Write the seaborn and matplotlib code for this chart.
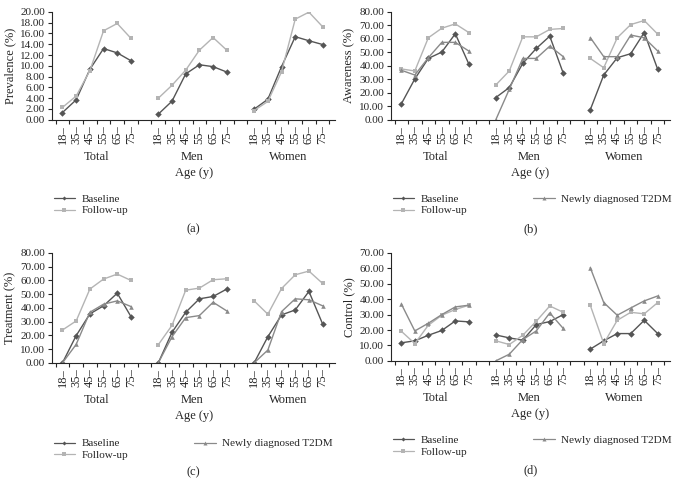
import seaborn as sns
import matplotlib.pyplot as plt
import matplotlib.ticker as mticker
import pandas as pd
import numpy as np

# age bands and groups
ages = ['18–', '35–', '45–', '55–', '65–', '75–']
groups = ['Total', 'Men', 'Women']

# (a) prevalence
prev_base = [1.35, 3.7, 9.35, 13.2, 12.4, 10.95,
             1.05, 3.45, 8.5, 10.2, 9.85, 8.85,
             1.97, 3.8, 9.85, 15.4, 14.65, 13.95]
prev_follow = [2.3, 4.4, 9.1, 16.5, 17.85, 15.1,
               4.0, 6.4, 9.2, 12.9, 15.25, 12.9,
               1.72, 3.4, 8.9, 18.65, 19.95, 17.25]

# (b) awareness
aware_base = [11.8, 30.3, 45.5, 50.2, 63.8, 41.4,
              16.5, 23.9, 41.8, 52.9, 62.0, 34.5,
              7.4, 33.2, 46.0, 49.0, 64.7, 37.4]
aware_follow = [37.7, 36.2, 60.8, 67.9, 71.1, 64.7,
                25.8, 36.2, 61.5, 61.5, 67.0, 67.7,
                45.5, 38.6, 60.8, 70.6, 73.6, 63.5]
aware_new = [36.7, 33.2, 46.0, 57.4, 57.4, 51.0,
             0.0, 22.6, 45.5, 45.5, 54.6, 46.8,
             61.0, 46.8, 46.8, 62.8, 60.8, 51.0]

# (c) treatment
treat_base = [0.0, 19.8, 35.6, 41.5, 50.7, 33.7,
              0.0, 22.2, 36.8, 46.6, 48.3, 53.7,
              0.0, 19.0, 34.9, 38.5, 52.0, 28.3]
treat_follow = [23.9, 30.5, 53.7, 61.0, 64.6, 60.0,
                13.2, 27.3, 52.9, 54.4, 60.5, 61.2,
                45.1, 35.4, 54.1, 64.1, 66.8, 57.8]
treat_new = [0.0, 13.4, 36.8, 42.7, 45.1, 41.0,
             0.0, 19.0, 32.9, 34.4, 44.1, 37.8,
             0.0, 9.3, 37.3, 46.6, 45.9, 41.5]

# (d) control
ctrl_base = [11.7, 13.0, 16.6, 19.7, 25.9, 25.3,
             16.8, 14.9, 13.4, 23.5, 25.5, 30.0,
             7.6, 13.0, 17.7, 17.7, 26.3, 17.7]
ctrl_follow = [19.2, 11.2, 23.1, 29.6, 33.3, 36.1,
               13.0, 10.6, 16.6, 25.7, 35.6, 31.5,
               36.1, 11.2, 26.3, 31.5, 30.5, 37.8]
ctrl_new = [36.9, 19.4, 24.4, 30.0, 35.0, 36.1,
            0.0, 4.3, 13.8, 19.4, 31.1, 21.0,
            60.5, 37.8, 29.6, 34.3, 38.9, 42.1]

sns.set_style('ticks')
plt.rcParams['font.family'] = ['Liberation Serif', 'DejaVu Serif']
plt.rcParams['axes.linewidth'] = 0.8

palette = {'Baseline': '#555555', 'Follow-up': '#b4b4b4', 'Newly diagnosed T2DM': '#8a8a8a'}
markers = {'Baseline': 'D', 'Follow-up': 's', 'Newly diagnosed T2DM': '^'}
sizes = {'Baseline': 2.6, 'Follow-up': 3.0, 'Newly diagnosed T2DM': 3.6}

# x positions: 6 ages per group, one empty slot between groups
xpos = [g * 7 + i for g in range(3) for i in range(6)]


def make_df(series):
    rows = []
    for name, vals in series.items():
        for k, v in enumerate(vals):
            rows.append({'x': xpos[k], 'value': v, 'series': name,
                         'group': groups[k // 6]})
    return pd.DataFrame(rows)


def panel(rect, series, ylabel, ymax, ystep, letter):
    ax = fig.add_axes(rect)
    df = make_df(series)
    names = list(series.keys())
    sns.lineplot(data=df, x='x', y='value', hue='series', style='series',
                 units='group', estimator=None, ax=ax, dashes=False,
                 palette={n: palette[n] for n in names},
                 markers={n: markers[n] for n in names},
                 linewidth=1.0, legend=False)
    for line in ax.lines:
        line.set_markersize(3.3)
        line.set_markeredgewidth(0)
    ax.set_xlim(-0.75, 19.9)
    ax.set_ylim(0, ymax)
    ax.set_yticks(np.arange(0, ymax + 0.01, ystep))
    ax.yaxis.set_major_formatter(mticker.FormatStrFormatter('%.2f'))
    ax.set_xticks(xpos)
    ax.set_xticklabels(ages * 3, rotation=90)
    ax.set_xticks(np.arange(-0.5, 20, 1), minor=True)
    ax.tick_params(axis='x', which='major', length=0, pad=4, labelsize=9)
    ax.tick_params(axis='x', which='minor', length=3, width=0.8, direction='out')
    ax.tick_params(axis='y', length=3, width=0.8, direction='out', labelsize=8, pad=2)
    ax.set_xlabel('')
    ax.set_ylabel(ylabel, fontsize=9, labelpad=3)
    sns.despine(ax=ax)

    for g, name in enumerate(groups):
        ax.annotate(name, xy=(g * 7 + 2.5, 0), xycoords=('data', 'axes fraction'),
                    xytext=(0, -27), textcoords='offset points',
                    ha='center', va='center', fontsize=9)
    ax.annotate('Age (y)', xy=(0.5, 0), xycoords='axes fraction',
                xytext=(0, -38.5), textcoords='offset points',
                ha='center', va='center', fontsize=9)
    ax.annotate(letter, xy=(0.5, 0), xycoords='axes fraction',
                xytext=(0, -78.5), textcoords='offset points',
                ha='center', va='center', fontsize=9)

    handles = [plt.Line2D([], [], color=palette[n], marker=markers[n],
                          markersize=sizes[n] * 0.8, markeredgewidth=0,
                          linewidth=0.9) for n in names]
    ax.legend(handles, names, loc='upper left', ncol=2 if len(names) > 2 else 1,
              frameon=False, bbox_to_anchor=(0.005, -0.69), fontsize=8.0,
              handlelength=1.95, handletextpad=0.6, labelspacing=0.15,
              columnspacing=5.9, borderaxespad=0, borderpad=0)
    return ax


fig = plt.figure(figsize=(6.78, 4.95), dpi=100)

panel([0.077, 0.758, 0.417, 0.218],
      {'Baseline': prev_base, 'Follow-up': prev_follow},
      'Prevalence (%)', 20, 2, '(a)')
panel([0.577, 0.758, 0.411, 0.218],
      {'Baseline': aware_base, 'Follow-up': aware_follow,
       'Newly diagnosed T2DM': aware_new},
      'Awareness (%)', 80, 10, '(b)')
panel([0.077, 0.267, 0.417, 0.222],
      {'Baseline': treat_base, 'Follow-up': treat_follow,
       'Newly diagnosed T2DM': treat_new},
      'Treatment (%)', 80, 10, '(c)')
panel([0.577, 0.271, 0.411, 0.218],
      {'Baseline': ctrl_base, 'Follow-up': ctrl_follow,
       'Newly diagnosed T2DM': ctrl_new},
      'Control (%)', 70, 10, '(d)')

fig.savefig('out.png', dpi=100)
